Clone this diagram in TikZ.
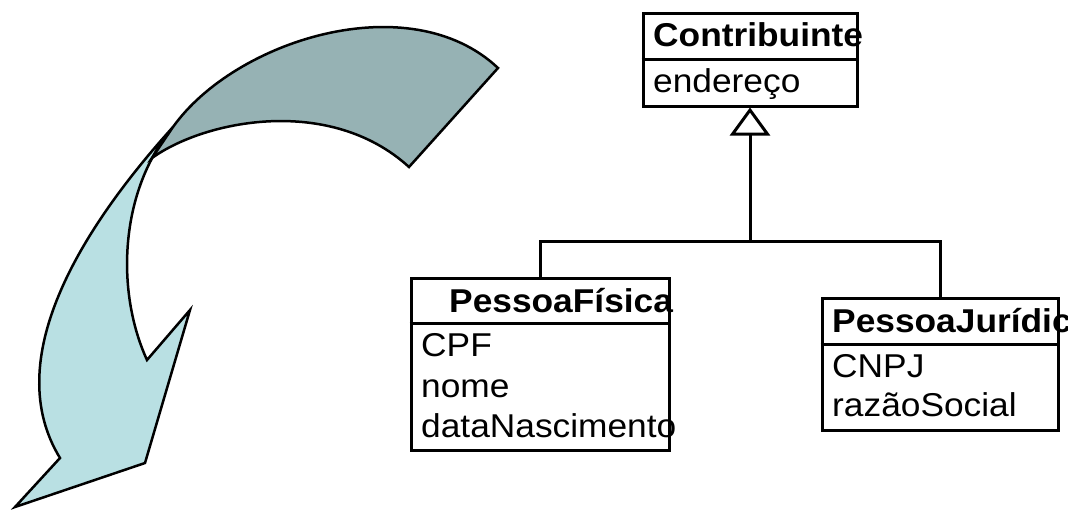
\documentclass[tikz,border=0pt]{standalone}
\usepackage{fontspec}
\setmainfont[FakeStretch=1.07]{Liberation Sans}
\usetikzlibrary{arrows.meta}
\definecolor{ribbonback}{RGB}{150,178,180}
\definecolor{ribbonfront}{RGB}{185,224,227}

\begin{document}
\begin{tikzpicture}[x=1pt,y=-1pt,
    classbox/.style={draw,line width=3pt,inner sep=0pt},
    umltext/.style={anchor=base west,inner sep=0pt,font=\fontsize{33}{39}\selectfont},
    umltitle/.style={umltext,font=\fontsize{33}{39}\selectfont\bfseries},
    inherit/.style={line width=3pt,-{Triangle[open,length=28pt,width=40pt,line width=3pt]}}]
    \useasboundingbox (0,0) rectangle (1068,509);
    % curved arrow
    \draw[line width=2.5pt,fill=ribbonfront] (173,127) .. controls (80,230) and (0,360) .. (60,458) -- (15,507) -- (145,463) -- (190,310) -- (147,360) .. controls (115,290) and (120,190) .. (173,127) -- cycle;
    \draw[line width=2.5pt,fill=ribbonback] (173,127) .. controls (235,40) and (410,-15) .. (498,68) -- (409,167) .. controls (330,95) and (205,120) .. (152,158) -- cycle;
    % classes
    \node[classbox,minimum width=214pt,minimum height=93pt] (contrib) at (750,59.5) {};
    \node[classbox,minimum width=258pt,minimum height=172pt] (fisica) at (540,364) {};
    \node[classbox,minimum width=236pt,minimum height=132pt] (juridica) at (940,364) {};
    \draw[line width=3pt] ([yshift=-48pt]contrib.north west) -- ([yshift=-48pt]contrib.north east);
    \draw[line width=3pt] ([yshift=-47pt]fisica.north west) -- ([yshift=-47pt]fisica.north east);
    \draw[line width=3pt] ([yshift=-48pt]juridica.north west) -- ([yshift=-48pt]juridica.north east);
    \node[umltitle] (contribname) at (653,46) {Contribuinte};
    \node[umltext] (endereco) at (653,92) {endereço};
    \node[umltitle] (fisicaname) at (449,312) {PessoaFísica};
    \node[umltext] (cpf) at (421,356) {CPF};
    \node[umltext] (nome) at (421,397) {nome};
    \node[umltext] (nascimento) at (421,437) {dataNascimento};
    \node[umltitle] (juridicaname) at (832,332) {PessoaJurídica};
    \node[umltext] (cnpj) at (832,377) {CNPJ};
    \node[umltext] (razao) at (832,416) {razãoSocial};
    % generalization
    \coordinate (fork) at (750,241);
    \draw[inherit] (fork) -- (contrib.south);
    \draw[line width=3pt] (fisica.north) |- (fork) -| (juridica.north);
\end{tikzpicture}
\end{document}
